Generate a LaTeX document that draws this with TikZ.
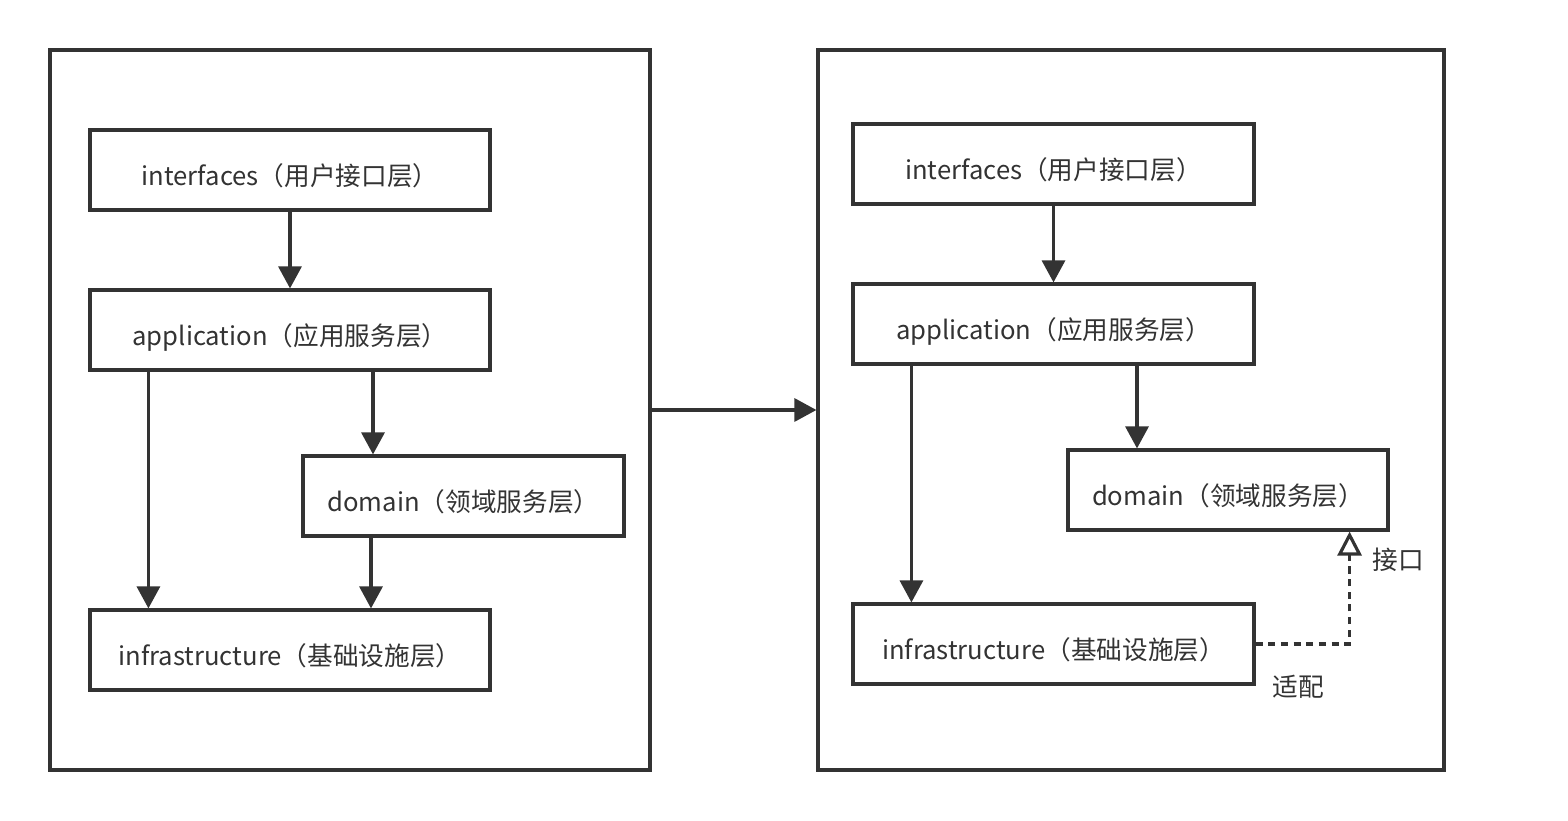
\documentclass[tikz,border=0pt]{standalone}
\usepackage{fontspec}
\setmainfont{Noto Sans CJK SC}
\usetikzlibrary{positioning, arrows.meta}
\definecolor{line_color}{RGB}{51, 51, 51}

\begin{document}
\begin{tikzpicture}[font=\fontsize{7.3}{8}\selectfont, line_color,
    layer/.style={draw=line_color, line width=0.9pt, minimum width=4cm, minimum height=0.8cm, inner sep=0pt, text height=0.86em, text depth=0pt, text=line_color},
    outer/.style={draw=line_color, line width=0.9pt, minimum width=6cm, minimum height=7.2cm, inner sep=0pt},
    link/.style={line width=0.9pt, -{Triangle[length=0.22cm, width=0.23cm]}},
    adapt/.style={line width=0.9pt, dash pattern=on 2pt off 1.6pt, -{Triangle[open, length=0.24cm, width=0.24cm]}}]

      \useasboundingbox (0,0) rectangle (15.68,8.2);

      % 1. Marcos exteriores
      \node[outer] (lout) at (3.5, 4.1) {};
      \node[outer, minimum width=6.26cm] (rout) at (11.31, 4.1) {};

      % 2. Capas (izquierda)
      \node[layer] (lint) at (2.9, 6.5) {interfaces（用户接口层）};
      \node[layer] (lapp) at (2.9, 4.9) {application（应用服务层）};
      \node[layer, minimum width=3.21cm] (ldom) at (4.635, 3.24) {domain（领域服务层）};
      \node[layer] (linf) at (2.9, 1.7) {infrastructure（基础设施层）};

      % 3. Capas (derecha)
      \node[layer, minimum width=4.01cm] (rint) at (10.535, 6.56) {interfaces（用户接口层）};
      \node[layer, minimum width=4.01cm] (rapp) at (10.535, 4.96) {application（应用服务层）};
      \node[layer, minimum width=3.2cm] (rdom) at (12.28, 3.3) {domain（领域服务层）};
      \node[layer, minimum width=4.01cm] (rinf) at (10.535, 1.76) {infrastructure（基础设施层）};

      % 4. Flechas (izquierda)
      \draw[link] (lint) -- (lapp);
      \draw[link] ([xshift=-0.905cm]ldom.north |- lapp.south) -- ([xshift=-0.905cm]ldom.north);
      \draw[link] ([xshift=0.6cm]lapp.south west) -- ([xshift=0.6cm]linf.north west);
      \draw[link] ([xshift=-0.925cm]ldom.south) -- ([xshift=-0.925cm]ldom.south |- linf.north);

      % 5. Flechas (derecha)
      \draw[link] (rint) -- (rapp);
      \draw[link] ([xshift=-0.91cm]rdom.north |- rapp.south) -- ([xshift=-0.91cm]rdom.north);
      \draw[link] ([xshift=0.6cm]rapp.south west) -- ([xshift=0.6cm]rinf.north west);
      \draw[adapt] (rinf.east) -| ([xshift=-0.4cm]rdom.south east);
      \node (jiekou) at (13.98, 2.6) {接口};
      \node (shipei) at (12.98, 1.33) {适配};

      % 6. Transformacion
      \draw[link] (lout) -- (rout);

\end{tikzpicture}
\end{document}
